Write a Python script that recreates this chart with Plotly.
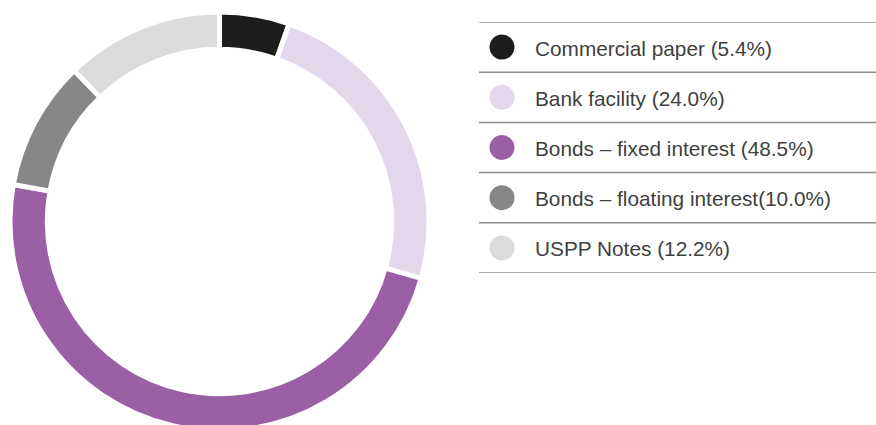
import plotly.graph_objects as go

# Funding mix
categories = [
    "Commercial paper",
    "Bank facility",
    "Bonds – fixed interest",
    "Bonds – floating interest",
    "USPP Notes",
]
shares = [5.4, 24.0, 48.5, 10.0, 12.2]
legend_labels = [
    "Commercial paper (5.4%)",
    "Bank facility (24.0%)",
    "Bonds – fixed interest (48.5%)",
    "Bonds – floating interest(10.0%)",
    "USPP Notes (12.2%)",
]
colors = ["#1d1d1b", "#e2d7eb", "#9a5fa4", "#878787", "#dbdbdb"]

W, H = 876, 434

fig = go.Figure()

# Donut
fig.add_trace(go.Pie(
    labels=categories,
    values=shares,
    hole=0.822,
    sort=False,
    direction="clockwise",
    rotation=0,
    marker=dict(colors=colors, line=dict(color="white", width=5)),
    textinfo="none",
    hoverinfo="label+percent",
    showlegend=False,
    domain=dict(x=[10 / W, 429 / W], y=[(H - 431) / H, (H - 12) / H]),
))

# Custom legend: one row per category
rows = list(range(len(categories)))
fig.add_trace(go.Scatter(
    x=[502] * len(rows),
    y=rows,
    mode="markers",
    marker=dict(size=25, color=colors, line=dict(width=0)),
    hoverinfo="skip",
    showlegend=False,
    xaxis="x",
    yaxis="y",
))

for i, lab in enumerate(legend_labels):
    fig.add_annotation(
        x=533, y=i, xref="x", yref="y", yshift=-1,
        text=lab, showarrow=False, xanchor="left", yanchor="middle",
        font=dict(family="Liberation Sans, Arial, sans-serif", size=20.8,
                  color="#404040"),
    )

# Separator rules between legend rows
for k in range(len(rows) + 1):
    fig.add_shape(
        type="line", xref="x", yref="y",
        x0=479, x1=876, y0=k - 0.5, y1=k - 0.5,
        line=dict(color="#8c8c8c", width=1.5),
    )

fig.update_layout(
    width=W, height=H,
    margin=dict(l=0, r=0, t=0, b=0),
    paper_bgcolor="white",
    plot_bgcolor="rgba(0,0,0,0)",
    xaxis=dict(range=[0, W], domain=[0, 1], visible=False, fixedrange=True),
    yaxis=dict(range=[len(rows) - 0.5, -0.5],
               domain=[(H - 273) / H, (H - 22) / H],
               visible=False, fixedrange=True),
)

fig.write_html(
    "out.html",
    post_script="document.documentElement.style.overflow='hidden';document.body.style.overflow='hidden';document.body.style.margin='0';",
)
